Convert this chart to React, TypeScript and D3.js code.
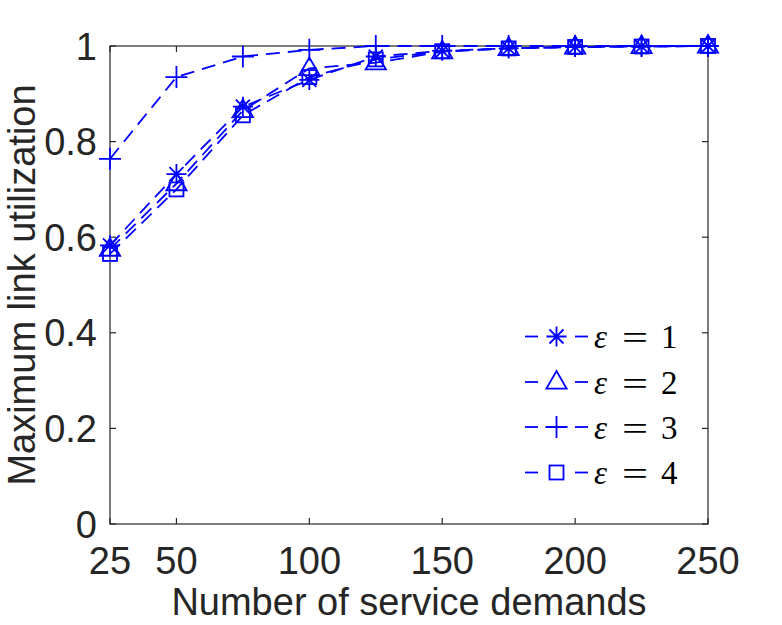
import React from 'react';
import * as d3 from 'd3';

// service demand counts on the x axis
const demands = [25, 50, 75, 100, 125, 150, 175, 200, 225, 250];

// maximum link utilization per epsilon setting
const eps1 = [0.583, 0.732, 0.873, 0.929, 0.978, 0.99, 0.995, 0.998, 0.999, 1.0];
const eps2 = [0.575, 0.712, 0.865, 0.953, 0.965, 0.988, 0.995, 0.998, 0.999, 1.0];
const eps3 = [0.764, 0.935, 0.978, 0.992, 1.0, 1.0, 1.0, 1.0, 1.0, 1.0];
const eps4 = [0.565, 0.70, 0.855, 0.935, 0.972, 0.989, 0.995, 0.998, 0.999, 1.0];

const xTicks = [25, 50, 100, 150, 200, 250];
const yTicks = [0, 0.2, 0.4, 0.6, 0.8, 1];

const seriesList = [
  { name: '1', values: eps1, marker: 'star' },
  { name: '2', values: eps2, marker: 'triangle' },
  { name: '3', values: eps3, marker: 'plus' },
  { name: '4', values: eps4, marker: 'square' },
];

const BLUE = '#0000ff';
const AXIS = '#262626';
const LW = 1.8;

const width = 782;
const height = 625;
const margin = { top: 46, right: 74, bottom: 101, left: 110 };

function Marker({ type, x, y }: { type: string; x: number; y: number }) {
  const common = { stroke: BLUE, strokeWidth: LW, fill: 'none' };
  if (type === 'plus') {
    const r = 11;
    return <path d={`M${x - r},${y}H${x + r}M${x},${y - r}V${y + r}`} {...common} />;
  }
  if (type === 'star') {
    const r = 10;
    const d = 7;
    return (
      <path
        d={`M${x - r},${y}H${x + r}M${x},${y - r}V${y + r}M${x - d},${y - d}L${x + d},${y + d}M${x - d},${y + d}L${x + d},${y - d}`}
        {...common}
      />
    );
  }
  if (type === 'triangle') {
    const r = 11;
    return <path d={`M${x},${y - r}L${x + r * 0.92},${y + r * 0.6}L${x - r * 0.92},${y + r * 0.6}Z`} {...common} />;
  }
  const s = 7;
  return <rect x={x - s} y={y - s} width={2 * s} height={2 * s} {...common} />;
}

export default function App() {
  const x = d3.scaleLinear().domain([25, 250]).range([margin.left, width - margin.right]);
  const y = d3.scaleLinear().domain([0, 1]).range([height - margin.bottom, margin.top]);

  const line = d3
    .line<number>()
    .x((_, i) => x(demands[i]))
    .y((d) => y(d));

  const x0 = x(25);
  const x1 = x(250);
  const y0 = y(0);
  const y1 = y(1);
  const tick = 6;
  const font = '"Liberation Sans", Arial, Helvetica, sans-serif';
  const serif = '"Liberation Serif", "Times New Roman", serif';

  const legendX = 525;
  const legendY = [336.5, 382, 427, 472.5];

  return (
    <svg width={width} height={height} style={{ position: 'absolute', left: 0, top: 0 }}>
      <rect width={width} height={height} fill="#fff" />

      {/* plot box with inward ticks on all four sides */}
      <rect x={x0} y={y1} width={x1 - x0} height={y0 - y1} fill="none" stroke={AXIS} strokeWidth={1.2} />
      {xTicks.map((t) => (
        <g key={`xt${t}`}>
          <line x1={x(t)} x2={x(t)} y1={y0} y2={y0 - tick} stroke={AXIS} strokeWidth={1.2} />
          <line x1={x(t)} x2={x(t)} y1={y1} y2={y1 + tick} stroke={AXIS} strokeWidth={1.2} />
          <text x={x(t)} y={y0 + 50} textAnchor="middle" fontFamily={font} fontSize={38} fill={AXIS}>
            {t}
          </text>
        </g>
      ))}
      {yTicks.map((t) => (
        <g key={`yt${t}`}>
          <line x1={x0} x2={x0 + tick} y1={y(t)} y2={y(t)} stroke={AXIS} strokeWidth={1.2} />
          <line x1={x1} x2={x1 - tick} y1={y(t)} y2={y(t)} stroke={AXIS} strokeWidth={1.2} />
          <text x={x0 - 13} y={y(t) + 13.5} textAnchor="end" fontFamily={font} fontSize={38} fill={AXIS}>
            {t}
          </text>
        </g>
      ))}

      {/* series lines and markers */}
      {seriesList.map((s) => (
        <g key={s.name}>
          <path d={line(s.values) || ''} fill="none" stroke={BLUE} strokeWidth={LW} strokeDasharray="14,8" />
          {s.values.map((v, i) => (
            <Marker key={i} type={s.marker} x={x(demands[i])} y={y(v)} />
          ))}
        </g>
      ))}

      {/* legend */}
      {seriesList.map((s, i) => (
        <g key={`lg${s.name}`}>
          <line x1={legendX} x2={legendX + 13} y1={legendY[i]} y2={legendY[i]} stroke={BLUE} strokeWidth={LW} />
          <line x1={legendX + 50} x2={legendX + 63} y1={legendY[i]} y2={legendY[i]} stroke={BLUE} strokeWidth={LW} />
          <Marker type={s.marker} x={legendX + 31.5} y={legendY[i]} />
          <text x={594} y={legendY[i] + 11.5} fontFamily={serif} fontSize={33} fontStyle="italic" fill="#000">
            ε
          </text>
          <text
            transform={`translate(622,${legendY[i] + 12.5}) scale(1.4,1)`}
            fontFamily={serif}
            fontSize={33}
            fill="#000"
          >
            =
          </text>
          <text x={661} y={legendY[i] + 11.5} fontFamily={serif} fontSize={33} fill="#000">
            {s.name}
          </text>
        </g>
      ))}

      {/* axis labels */}
      <text x={(x0 + x1) / 2} y={615} textAnchor="middle" fontFamily={font} fontSize={38} fill={AXIS}>
        Number of service demands
      </text>
      <text
        transform={`translate(35,${(y0 + y1) / 2}) rotate(-90)`}
        textAnchor="middle"
        fontFamily={font}
        fontSize={38}
        fill={AXIS}
      >
        Maximum link utilization
      </text>
    </svg>
  );
}
